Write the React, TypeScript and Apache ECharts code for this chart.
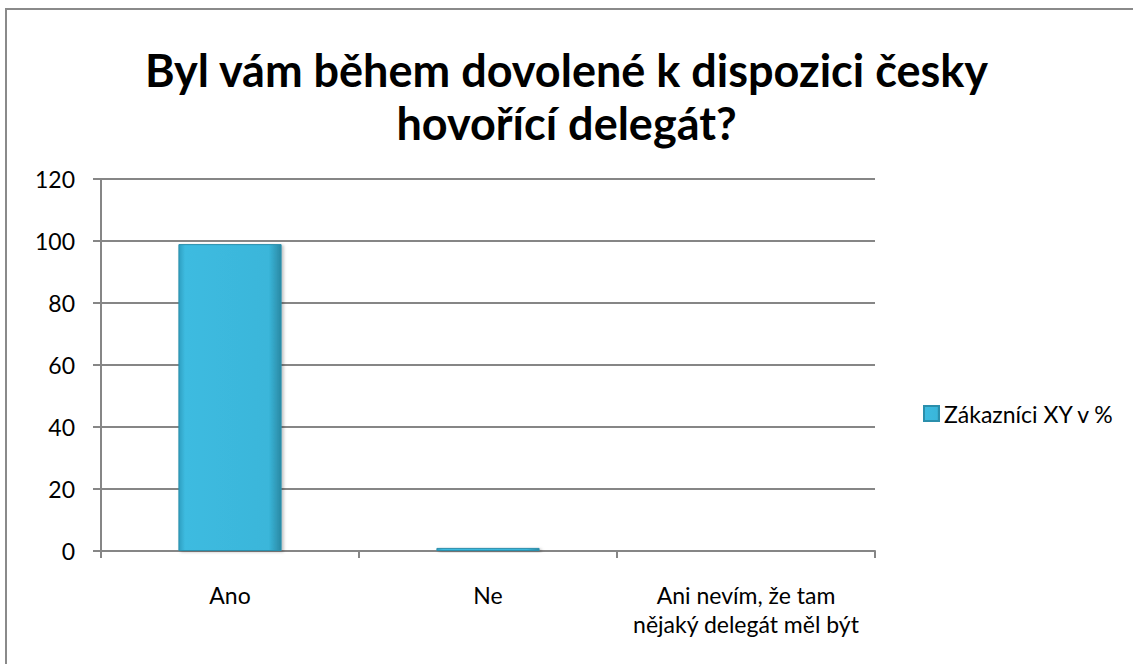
import React, { useEffect, useRef } from "react";
import * as echarts from "echarts";

const titleText = "Byl vám během dovolené k dispozici česky\nhovořící delegát?";
const categories = ["Ano", "Ne", "Ani nevím, že tam\nnějaký delegát měl být"];
const seriesName = "Zákazníci XY v %";
const values = [99, 1, 0];
const yMin = 0;
const yMax = 120;
const yInterval = 20;

const FONT = "Lato, 'Open Sans', sans-serif";

export default function App() {
  const ref = useRef<HTMLDivElement>(null);
  useEffect(() => {
    if (!ref.current) return;
    const chart = echarts.init(ref.current, undefined, { renderer: "svg" });
    const barColor = new echarts.graphic.LinearGradient(0, 0, 1, 0, [
      { offset: 0, color: "#2f9fc1" },
      { offset: 0.06, color: "#3dbbe0" },
      { offset: 0.88, color: "#3ab6da" },
      { offset: 1, color: "#2a89a4" },
    ]);
    chart.setOption({
      animation: false,
      backgroundColor: "transparent",
      textStyle: { fontFamily: FONT },
      title: {
        text: titleText,
        left: "center",
        top: 38,
        textStyle: {
          fontFamily: FONT,
          fontSize: 45,
          fontWeight: "bold",
          lineHeight: 53,
          color: "#000",
        },
      },
      legend: {
        orient: "vertical",
        left: 918,
        top: 397,
        itemWidth: 15,
        itemHeight: 15,
        itemGap: 5,
        textStyle: { fontFamily: FONT, fontSize: 23, color: "#000" },
        data: [{ name: seriesName, icon: "rect" }],
      },
      grid: { left: 101, right: 258, top: 179, bottom: 113 },
      xAxis: {
        type: "category",
        data: categories,
        boundaryGap: true,
        axisLine: { show: true, lineStyle: { color: "#868686", width: 2 } },
        axisTick: { show: true, length: 7, lineStyle: { color: "#868686", width: 2 } },
        axisLabel: {
          interval: 0,
          hideOverlap: false,
          fontFamily: FONT,
          fontSize: 23,
          lineHeight: 29,
          color: "#000",
          margin: 29,
          align: "center",
        },
      },
      yAxis: {
        type: "value",
        min: yMin,
        max: yMax,
        interval: yInterval,
        axisLine: { show: true, lineStyle: { color: "#868686", width: 2 } },
        axisTick: { show: true, length: 8, lineStyle: { color: "#868686", width: 2 } },
        splitLine: { show: true, lineStyle: { color: "#868686", width: 2 } },
        axisLabel: { fontFamily: FONT, fontSize: 23, color: "#000", margin: 26 },
      },
      series: [
        {
          name: seriesName,
          type: "bar",
          data: values,
          barWidth: "40%",
          itemStyle: {
            color: barColor,
            borderColor: "#2b8fac",
            borderWidth: 1,
            shadowBlur: 3,
            shadowOffsetX: 2,
            shadowOffsetY: 1,
            shadowColor: "rgba(0,0,0,0.25)",
          },
        },
      ],
    });
    return () => chart.dispose();
  }, []);
  return (
    <div style={{ position: "absolute", left: 0, top: 0, width: 1133, height: 664, overflow: "hidden", background: "#fff" }}>
      <div
        style={{
          position: "absolute",
          left: 5,
          top: 8,
          width: 1200,
          height: 700,
          borderLeft: "2px solid #8a8a8a",
          borderTop: "2px solid #8a8a8a",
          boxSizing: "border-box",
        }}
      />
      <div ref={ref} style={{ position: "absolute", left: 0, top: 0, width: 1133, height: 664 }} />
    </div>
  );
}
